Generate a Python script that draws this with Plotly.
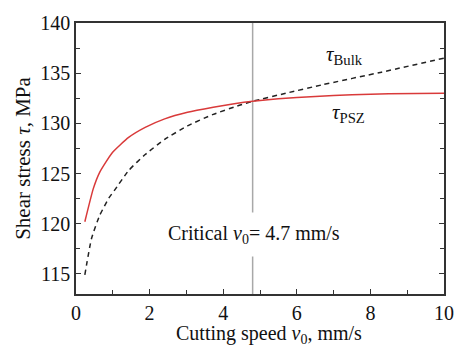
import plotly.graph_objects as go

# Data
speed_psz = [0.24, 0.47, 0.64, 0.99, 1.43, 1.88, 2.41, 3.03, 3.73, 4.3, 4.8, 5.5, 6.5, 7.5, 8.5, 10.0]
tau_psz = [120.2, 123.5, 125.1, 127.1, 128.6, 129.6, 130.45, 131.1, 131.6, 131.95, 132.2, 132.45, 132.68, 132.85, 132.95, 133.0]

speed_bulk = [0.24, 0.42, 0.64, 0.9, 1.04, 1.43, 1.88, 2.41, 3.03, 3.73, 4.44, 4.8, 5.7, 6.7, 8.3, 10.0]
tau_bulk = [114.9, 118.5, 120.8, 122.6, 123.3, 125.3, 126.9, 128.4, 129.75, 130.9, 131.8, 132.2, 133.0, 133.85, 135.1, 136.5]

critical_speed = 4.8
x_ticks = [0, 2, 4, 6, 8, 10]
y_ticks = [115, 120, 125, 130, 135, 140]

FONT = "Liberation Serif, Times New Roman, serif"
AX = "#333333"

W, H = 466, 346
ML, MR, MT, MB = 76, 13, 17, 52
PW, PH = W - ML - MR, H - MT - MB

fig = go.Figure()
fig.add_trace(go.Scatter(x=speed_bulk, y=tau_bulk, mode="lines",
                         line=dict(color="#222222", width=1.5, dash="5px,4px",
                                   shape="spline", smoothing=0.5),
                         showlegend=False))
fig.add_trace(go.Scatter(x=speed_psz, y=tau_psz, mode="lines",
                         line=dict(color="#d93a3a", width=1.5, shape="spline", smoothing=0.5),
                         showlegend=False))

fig.add_shape(type="line", x0=critical_speed, x1=critical_speed, xref="x",
              y0=0, y1=1, yref="paper", line=dict(color="#a8a8a8", width=1.5),
              layer="below")

fig.add_annotation(x=critical_speed, y=118.9, xref="x", yref="y",
                   text="Critical <i>v</i><sub>0</sub>= 4.7 mm/s", showarrow=False,
                   font=dict(family=FONT, size=20, color="#111111"),
                   bgcolor="white", borderpad=9, xshift=1)
fig.add_annotation(x=6.74, y=136.8, xref="x", yref="y", xanchor="left",
                   text="<i>τ</i><sub>Bulk</sub>", showarrow=False,
                   font=dict(family=FONT, size=21, color="#111111"))
fig.add_annotation(x=6.9, y=131.0, xref="x", yref="y", xanchor="left",
                   text="<i>τ</i><sub>PSZ</sub>", showarrow=False,
                   font=dict(family=FONT, size=21, color="#111111"))

# x-axis title placed as annotation in paper coordinates
fig.add_annotation(x=(274 - ML) / PW, y=-(335 - (H - MB)) / PH, xref="paper", yref="paper",
                   yanchor="middle",
                   text="Cutting speed <i>v</i><sub>0</sub>, mm/s", showarrow=False,
                   font=dict(family=FONT, size=20, color="#111111"))

fig.update_layout(
    width=W, height=H,
    margin=dict(l=ML, r=MR, t=MT, b=MB),
    paper_bgcolor="white", plot_bgcolor="white",
    font=dict(family=FONT, size=20, color="#111111"),
    xaxis=dict(range=[0, 10], tickvals=x_ticks, ticks="inside", ticklen=5, tickwidth=1.2,
               tickcolor=AX, showline=True, linecolor=AX, linewidth=1.5, mirror=True,
               showgrid=False, zeroline=False,
               minor=dict(ticks="inside", dtick=1, ticklen=4, tickcolor=AX, showgrid=False),
               tickfont=dict(family=FONT, size=20)),
    yaxis=dict(range=[113, 140], tickvals=y_ticks, ticks="inside", ticklen=5, tickwidth=1.2,
               tickcolor=AX, showline=True, linecolor=AX, linewidth=1.5, mirror="allticks",
               showgrid=False, zeroline=False,
               minor=dict(ticks="inside", dtick=2.5, tick0=115, ticklen=4, tickcolor=AX, showgrid=False),
               tickfont=dict(family=FONT, size=20),
               title=dict(text="Shear stress <i>τ</i>, MPa", font=dict(family=FONT, size=21),
                          standoff=4)),
)

fig.write_html("out.html")
